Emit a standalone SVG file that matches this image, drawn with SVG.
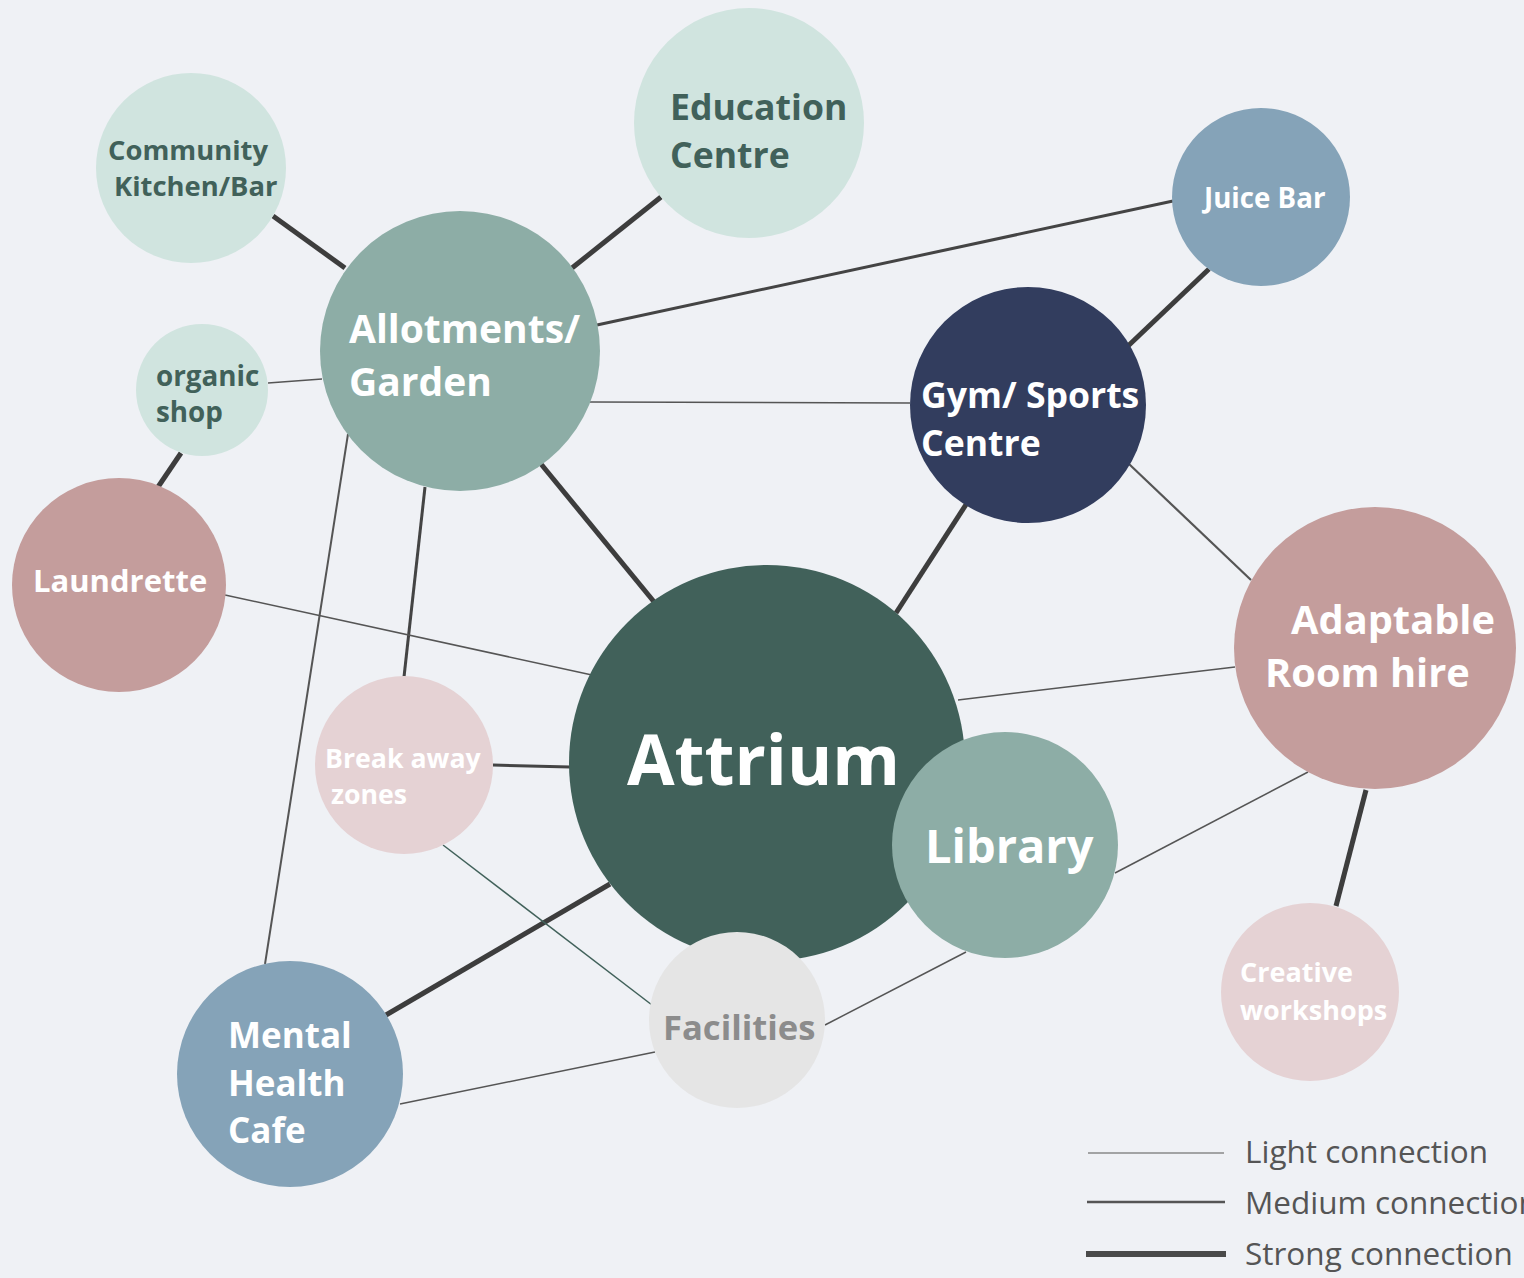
<svg xmlns="http://www.w3.org/2000/svg" width="1524" height="1278" viewBox="0 0 1524 1278">
<style>
text{font-family:"Open Sans","Noto Sans","Liberation Sans",sans-serif;font-weight:700}
.w{fill:#ffffff}
.dg{fill:#41615a}
.strong{stroke:#3d3d3d;stroke-width:5;fill:none}
.med{stroke:#444444;stroke-width:3;fill:none}
.light{stroke:#555555;stroke-width:1.5;fill:none}
.lg{font-weight:400;fill:#555555;font-size:31.5px}
</style>
<rect width="1524" height="1278" fill="#eff1f5"/>
<g id="connectors">
<line class="strong" x1="273" y1="216" x2="345" y2="268"/>
<line class="strong" x1="661" y1="197" x2="572" y2="268"/>
<line class="strong" x1="181" y1="453" x2="158" y2="487"/>
<line class="strong" x1="541" y1="464" x2="655" y2="603"/>
<line class="strong" x1="967" y1="503" x2="896" y2="613"/>
<line class="strong" x1="1209" y1="269" x2="1128" y2="346"/>
<line class="strong" x1="1366" y1="790" x2="1336" y2="906"/>
<line class="strong" x1="610" y1="884" x2="386" y2="1015"/>
<line class="med" x1="597" y1="325" x2="1173" y2="201"/>
<line class="med" x1="493" y1="765" x2="570" y2="767"/>
<line class="med" x1="425" y1="487" x2="404" y2="677"/>
<line class="light" x1="268" y1="383" x2="322" y2="379"/>
<line class="light" x1="590" y1="402" x2="910" y2="403"/>
<line class="light" x1="225" y1="595" x2="592" y2="675"/>
<line class="light" style="stroke-width:2" x1="348" y1="434" x2="265" y2="964"/>
<line class="light" style="stroke-width:2.2" x1="1129" y1="464" x2="1251" y2="580"/>
<line class="light" x1="958" y1="700" x2="1235" y2="667"/>
<line class="light" x1="1115" y1="873" x2="1308" y2="772"/>
<line class="light" style="stroke:#41615a" x1="443" y1="845" x2="652" y2="1005"/>
<line class="light" x1="825" y1="1025" x2="966" y2="952"/>
<line class="light" x1="400" y1="1104" x2="655" y2="1052"/>
</g>
<g id="community-kitchen">
<circle cx="191" cy="168" r="95" fill="#d0e4df"/>
<text class="dg" x="108" y="160" font-size="27.4">Community</text>
<text class="dg" x="114" y="196" font-size="27.4">Kitchen/Bar</text>
</g>
<g id="education-centre">
<circle cx="749" cy="123" r="115" fill="#d0e4df"/>
<text class="dg" x="670" y="120" font-size="35.6">Education</text>
<text class="dg" x="670" y="168" font-size="35.6">Centre</text>
</g>
<g id="juice-bar">
<circle cx="1261" cy="197" r="89" fill="#85a3b8"/>
<text class="w" x="1204" y="208" font-size="27.7">Juice Bar</text>
</g>
<g id="allotments">
<circle cx="460" cy="351" r="140" fill="#8dada6"/>
<text class="w" x="349" y="343" font-size="39">Allotments/</text>
<text class="w" x="349" y="396" font-size="39">Garden</text>
</g>
<g id="organic-shop">
<circle cx="202" cy="390" r="66" fill="#d0e4df"/>
<text class="dg" x="156" y="386" font-size="27.8">organic</text>
<text class="dg" x="156" y="422" font-size="27.8">shop</text>
</g>
<g id="gym">
<circle cx="1028" cy="405" r="118" fill="#323d5e"/>
<text class="w" x="921" y="408" font-size="35.6">Gym/ Sports</text>
<text class="w" x="921" y="456" font-size="35.6">Centre</text>
</g>
<g id="laundrette">
<circle cx="119" cy="585" r="107" fill="#c49d9c"/>
<text class="w" x="33" y="592" font-size="31">Laundrette</text>
</g>
<g id="adaptable">
<circle cx="1375" cy="648" r="141" fill="#c49d9c"/>
<text class="w" x="1291" y="634" font-size="39.8">Adaptable</text>
<text class="w" x="1265" y="687" font-size="39.8">Room hire</text>
</g>
<g id="attrium">
<circle cx="767" cy="763" r="198" fill="#41615a"/>
<text class="w" x="627" y="785" font-size="69">Attrium</text>
</g>
<g id="library">
<circle cx="1005" cy="845" r="113" fill="#8dada6"/>
<text class="w" x="925" y="863" font-size="47">Library</text>
</g>
<g id="break-away">
<circle cx="404" cy="765" r="89" fill="#e5d2d4"/>
<text class="w" x="325" y="768" font-size="26.7">Break away</text>
<text class="w" x="331" y="804" font-size="26.7">zones</text>
</g>
<g id="creative">
<circle cx="1310" cy="992" r="89" fill="#e5d2d4"/>
<text class="w" x="1240" y="982" font-size="27">Creative</text>
<text class="w" x="1240" y="1020" font-size="27">workshops</text>
</g>
<g id="facilities">
<circle cx="737" cy="1020" r="88" fill="#e5e5e5"/>
<text x="663" y="1040" font-size="34.6" fill="#8c8c8c">Facilities</text>
</g>
<g id="mental-health">
<circle cx="290" cy="1074" r="113" fill="#85a3b8"/>
<text class="w" x="228" y="1048" font-size="35">Mental</text>
<text class="w" x="228" y="1096" font-size="35">Health</text>
<text class="w" x="228" y="1143" font-size="35">Cafe</text>
</g>
<g id="legend">
<line x1="1088" y1="1153" x2="1224" y2="1153" stroke="#888888" stroke-width="1.5"/>
<line x1="1087" y1="1202" x2="1225" y2="1202" stroke="#555555" stroke-width="2.5"/>
<line x1="1086" y1="1254" x2="1226" y2="1254" stroke="#4a4a4a" stroke-width="6"/>
<text class="lg" x="1245" y="1163">Light connection</text>
<text class="lg" x="1245" y="1214">Medium connection</text>
<text class="lg" x="1245" y="1265">Strong connection</text>
</g>
</svg>
